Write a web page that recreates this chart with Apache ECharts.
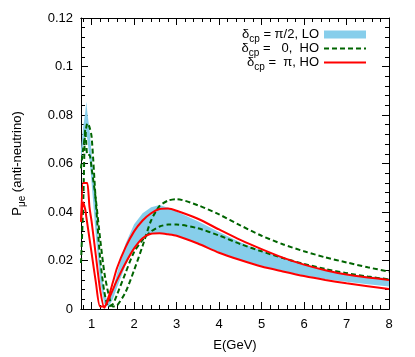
<!DOCTYPE html>
<html><head><meta charset="utf-8">
<script src="https://cdn.jsdelivr.net/npm/echarts@6/dist/echarts.min.js"></script>
<style>html,body{margin:0;padding:0;background:#fff}#c{width:415px;height:357px}</style>
</head><body><div id="c"></div>
<script>
// Energy grid (GeV)
const E       = [0.75, 0.8, 0.85, 0.875, 0.9, 0.95, 1.0, 1.1, 1.2, 1.3, 1.4, 1.5, 1.6, 1.8, 2.0, 2.2, 2.4, 2.6, 2.8, 3.0, 3.5, 4.0, 4.5, 5.0, 5.5, 6.0, 6.5, 7.0, 7.5, 8.0];
// delta_cp = pi/2, LO : band edges
const bandHi  = [0.066, 0.075, 0.081, 0.0855, 0.081, 0.074, 0.064, 0.042, 0.020, 0.006, 0.003, 0.008, 0.015, 0.027, 0.035, 0.0395, 0.042, 0.0429, 0.0418, 0.0402, 0.0362, 0.0318, 0.0275, 0.024, 0.021, 0.0183, 0.016, 0.0145, 0.0135, 0.0127];
const bandLo  = [0.062, 0.067, 0.071, 0.072, 0.070, 0.062, 0.052, 0.030, 0.011, 0.002, 0.001, 0.004, 0.009, 0.018, 0.025, 0.0293, 0.031, 0.0313, 0.031, 0.0302, 0.0272, 0.0234, 0.0203, 0.0177, 0.0157, 0.0138, 0.0123, 0.0112, 0.0102, 0.0093];
// delta_cp = 0, HO
const greenA  = [0.019, 0.042, 0.074, 0.068, 0.0635, 0.0635, 0.058, 0.045, 0.029, 0.015, 0.006, 0.001, 0.0015, 0.007, 0.016, 0.026, 0.0365, 0.0425, 0.0447, 0.0453, 0.0428, 0.039, 0.0345, 0.0302, 0.0267, 0.0238, 0.0213, 0.0192, 0.0172, 0.0154];
const greenB  = [0.058, 0.066, 0.072, 0.075, 0.0766, 0.075, 0.071, 0.044, 0.021, 0.007, 0.001, 0.002, 0.006, 0.015, 0.0235, 0.0285, 0.032, 0.034, 0.0348, 0.0348, 0.0333, 0.0303, 0.0268, 0.0238, 0.021, 0.0186, 0.0165, 0.0148, 0.0134, 0.0122];
// delta_cp = pi, HO
const redA    = [0.036, 0.052, 0.052, 0.052, 0.052, 0.042, 0.036, 0.022, 0.008, 0.0005, 0.005, 0.011, 0.017, 0.0255, 0.032, 0.0365, 0.0395, 0.0412, 0.0414, 0.0405, 0.0372, 0.0328, 0.0285, 0.0247, 0.0212, 0.0183, 0.016, 0.0142, 0.013, 0.012];
const redB    = [0.036, 0.044, 0.041, 0.038, 0.035, 0.029, 0.023, 0.011, 0.001, 0.001, 0.004, 0.008, 0.012, 0.019, 0.025, 0.0292, 0.031, 0.0312, 0.0308, 0.0302, 0.027, 0.0232, 0.0202, 0.0175, 0.0155, 0.0136, 0.012, 0.0106, 0.0094, 0.0082];

const xTicks = [1, 2, 3, 4, 5, 6, 7, 8];
const yTicks = ['0', '0.02', '0.04', '0.06', '0.08', '0.1', '0.12'];
const labels = {
  lo: '{d|δ}{s|cp}{d| = π/2, LO}',
  h0: '{d|δ}{s|cp}{d| =   0,  HO}',
  hp: '{d|δ}{s|cp}{d| =  π, HO}'
};

const xy = (ys) => E.map((x, i) => [x, ys[i]]);
const xMinor = [];
for (let v = 0.8; v < 8.0001; v += 0.2) {
  const r = Math.round(v * 10) / 10;
  if (Math.abs(r - Math.round(r)) > 1e-6) xMinor.push(r);
}
const FONT = 'Liberation Sans';
const rich = {
  d: { fontFamily: FONT, fontSize: 13, color: '#000' },
  s: { fontFamily: FONT, fontSize: 10, color: '#000', padding: [9, 0, 0, 0] }
};

function xAx(pos, custom, len, showLabel) {
  return {
    type: 'value', position: pos, min: 0.75, max: 8, gridIndex: 0,
    axisLine: { show: true, onZero: false, lineStyle: { color: '#000', width: 1 } },
    axisTick: { show: true, inside: true, length: len, customValues: custom, lineStyle: { color: '#000' } },
    axisLabel: { show: showLabel, customValues: custom, margin: 9, color: '#000', fontFamily: FONT, fontSize: 13 },
    splitLine: { show: false }
  };
}
function yAx(pos, showLabel) {
  return {
    type: 'value', position: pos, min: 0, max: 0.12, interval: 0.02,
    axisLine: { show: true, onZero: false, lineStyle: { color: '#000', width: 1 } },
    axisTick: { show: true, inside: true, length: 7, lineStyle: { color: '#000' } },
    minorTick: { show: true, splitNumber: 5, length: 4, lineStyle: { color: '#000' } },
    axisLabel: { show: showLabel, margin: 8, color: '#000', fontFamily: FONT, fontSize: 13,
      formatter: (v) => yTicks[Math.round(v / 0.02)] },
    splitLine: { show: false }
  };
}

const xa0 = xAx('bottom', xTicks, 7, true);
xa0.name = 'E(GeV)';
xa0.nameLocation = 'middle';
xa0.nameGap = 30;
xa0.nameTextStyle = { color: '#000', fontFamily: FONT, fontSize: 13 };
const ya0 = yAx('left', true);
ya0.name = '{d|P}{s|μe}{d| (anti-neutrino)}';
ya0.nameLocation = 'middle';
ya0.nameGap = 54;
ya0.nameTextStyle = { rich: rich };

const line = (name, data, color, type, w) => ({
  name: name, type: 'line', data: xy(data), xAxisIndex: 0, yAxisIndex: 0,
  symbol: 'none', showSymbol: false, smooth: 0.25, z: 3,
  lineStyle: { color: color, width: w, type: type },
  itemStyle: { color: color }
});

const option = {
  animation: false,
  grid: { left: 81, right: 26, top: 18, bottom: 48, containLabel: false },
  xAxis: [xa0, xAx('bottom', xMinor, 4, false), xAx('top', xTicks, 7, false), xAx('top', xMinor, 4, false)],
  yAxis: [ya0, yAx('right', false)],
  legend: {
    orient: 'vertical', right: 43, top: 23, align: 'right', itemGap: -2,
    itemWidth: 42, itemHeight: 8,
    data: [
      { name: 'lo', icon: 'rect', itemStyle: { color: '#87CEEB' } },
      { name: 'h0', itemStyle: { opacity: 0 } },
      { name: 'hp', itemStyle: { opacity: 0 } }
    ],
    formatter: (n) => labels[n],
    textStyle: { rich: rich }
  },
  series: [
    {
      name: 'lo', type: 'custom', xAxisIndex: 0, yAxisIndex: 0, clip: true, z: 1,
      itemStyle: { color: '#87CEEB' },
      data: [[E[0], bandLo[0]]],
      renderItem: function (params, api) {
        const pts = [];
        for (let i = 0; i < E.length; i++) pts.push(api.coord([E[i], bandHi[i]]));
        for (let i = E.length - 1; i >= 0; i--) pts.push(api.coord([E[i], bandLo[i]]));
        return { type: 'polygon', shape: { points: pts }, style: { fill: '#87CEEB', stroke: null } };
      }
    },
    line('h0', greenA, '#006400', [5, 3], 2),
    line('h0', greenB, '#006400', [5, 3], 2),
    line('hp', redA, '#ff0000', 'solid', 2),
    line('hp', redB, '#ff0000', 'solid', 2)
  ]
};
const chart = echarts.init(document.getElementById('c'), null, { renderer: 'canvas' });
chart.setOption(option);
</script></body></html>
